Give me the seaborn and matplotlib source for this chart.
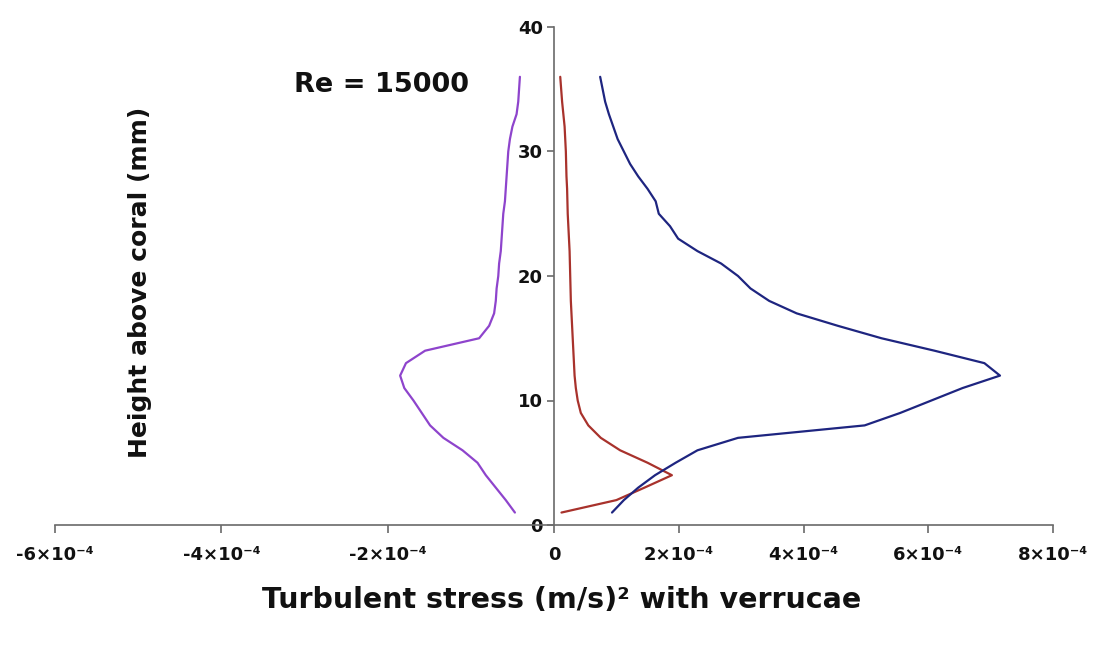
import numpy as np
import pandas as pd
import matplotlib
matplotlib.use("Agg")
import matplotlib.pyplot as plt
import seaborn as sns

# ---- data (stress values in units of 1e-4 (m/s)^2, heights in mm) ----
scale = 1e-4
height = list(range(1, 37))
purple_e4 = [-0.47, -0.58, -0.70, -0.82, -0.92, -1.10, -1.33, -1.49, -1.59, -1.69,
             -1.80, -1.85, -1.78, -1.55, -0.90, -0.78, -0.72, -0.70, -0.69, -0.67,
             -0.66, -0.64, -0.63, -0.62, -0.61, -0.59, -0.58, -0.57, -0.56, -0.55,
             -0.53, -0.50, -0.45, -0.43, -0.42, -0.41]
red_e4 = [0.12, 1.00, 1.45, 1.89, 1.50, 1.06, 0.75, 0.55, 0.43, 0.38,
          0.35, 0.33, 0.32, 0.31, 0.30, 0.29, 0.28, 0.27, 0.265, 0.26,
          0.255, 0.25, 0.24, 0.23, 0.22, 0.215, 0.21, 0.20, 0.195, 0.19,
          0.18, 0.17, 0.15, 0.13, 0.115, 0.10]
blue_e4 = [0.93, 1.12, 1.35, 1.62, 1.95, 2.30, 2.95, 4.98, 5.55, 6.05,
           6.55, 7.15, 6.90, 6.10, 5.25, 4.55, 3.89, 3.45, 3.15, 2.95,
           2.68, 2.30, 1.99, 1.86, 1.68, 1.63, 1.50, 1.35, 1.22, 1.12,
           1.02, 0.95, 0.88, 0.82, 0.78, 0.74]
series_names = ["purple", "red", "blue"]
series_colors = ["#8E44CC", "#A8322C", "#1E2580"]
xtick_vals_e4 = [-6, -4, -2, 0, 2, 4, 6, 8]
xtick_labels = ["-6×10⁻⁴", "-4×10⁻⁴", "-2×10⁻⁴", "0", "2×10⁻⁴", "4×10⁻⁴", "6×10⁻⁴", "8×10⁻⁴"]
ytick_vals = [0, 10, 20, 30, 40]
annotation = "Re = 15000"
xlabel = "Turbulent stress (m/s)² with verrucae"
ylabel = "Height above coral (mm)"

frames = []
for name, vals in zip(series_names, [purple_e4, red_e4, blue_e4]):
    frames.append(pd.DataFrame({"stress": np.array(vals) * scale,
                                "height": height, "series": name,
                                "order": np.arange(len(vals))}))
df = pd.concat(frames, ignore_index=True)

sns.set_theme(style="white")
plt.rcParams["font.family"] = ["DejaVu Sans"]

fig = plt.figure(figsize=(10.93, 6.46), dpi=100)
ax = fig.add_axes([55 / 1093, 1 - 525 / 646, 998 / 1093, 498 / 646])

# piecewise axis: negative side stretched 4/3 relative to positive side
def fwd(x):
    x = np.asarray(x, dtype=float)
    return np.where(x < 0, x * 4.0 / 3.0, x)

def inv(y):
    y = np.asarray(y, dtype=float)
    return np.where(y < 0, y * 3.0 / 4.0, y)

ax.set_xscale("function", functions=(fwd, inv))

sns.lineplot(data=df, x="stress", y="height", hue="series", units="series",
             palette=dict(zip(series_names, series_colors)), estimator=None,
             sort=False, legend=False, linewidth=1.6, ax=ax)

ax.set_xlim(-6e-4, 8e-4)
ax.set_ylim(0, 40)
ax.spines["left"].set_position(("data", 0))
ax.spines["top"].set_visible(False)
ax.spines["right"].set_visible(False)
for s in ["left", "bottom"]:
    ax.spines[s].set_color("#6a6a6a")
    ax.spines[s].set_linewidth(1.2)

ax.set_xticks([v * scale for v in xtick_vals_e4])
ax.set_xticklabels(xtick_labels)
ax.xaxis.set_minor_locator(matplotlib.ticker.NullLocator())
ax.set_yticks(ytick_vals)
ax.tick_params(axis="x", direction="out", length=6, width=1.2, color="#6a6a6a",
               pad=9, labelsize=13, bottom=True)
ax.tick_params(axis="y", direction="out", length=5, width=1.2, color="#6a6a6a",
               pad=3, labelsize=13, left=True)
for lab in ax.get_xticklabels() + ax.get_yticklabels():
    lab.set_fontweight("bold")
    lab.set_color("#111111")

ax.set_xlabel(xlabel, fontsize=20.5, fontweight="bold", color="#111111")
ax.xaxis.set_label_coords((562 - 55) / 998, (525 - 600) / 498)
ax.xaxis.label.set_va("center")
ax.set_ylabel(ylabel, fontsize=18, fontweight="bold", color="#111111")
ax.yaxis.set_label_coords((140 - 55) / 998, (525 - 282) / 498)
ax.yaxis.label.set_va("center")

ax.text((382 - 55) / 998, (525 - 85) / 498, annotation, transform=ax.transAxes,
        ha="center", va="center", fontsize=19.5, fontweight="bold", color="#111111")

fig.savefig("out.png", dpi=100, facecolor="white")
